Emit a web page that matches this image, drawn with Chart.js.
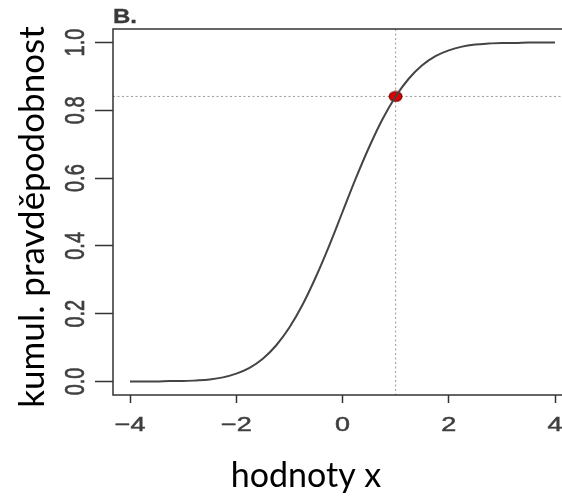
<!DOCTYPE html>
<html>
<head>
<meta charset="utf-8">
<script src="https://cdn.jsdelivr.net/npm/chart.js@4.4.1/dist/chart.umd.min.js"></script>
<style>
  html, body { margin: 0; padding: 0; background: #fff; overflow: hidden; }
  #wrap { position: relative; width: 580px; height: 496px; }
</style>
</head>
<body>
<div id="wrap"><canvas id="cdf"></canvas></div>
<script>
/* Cumulative distribution curve (panel B), R-style axes. */
var xs = [-4, -3.75, -3.5, -3.25, -3, -2.75, -2.5, -2.25, -2, -1.75, -1.5, -1.25, -1, -0.75, -0.5, -0.25,
          0, 0.25, 0.5, 0.75, 1, 1.25, 1.5, 1.75, 2, 2.25, 2.5, 2.75, 3, 3.25, 3.5, 3.75, 4];
var cdfVals = [0.000, 0.000, 0.000, 0.001, 0.001, 0.003, 0.006, 0.012, 0.023, 0.040, 0.067, 0.106, 0.159, 0.227, 0.309, 0.401,
               0.500, 0.599, 0.691, 0.773, 0.841, 0.894, 0.933, 0.960, 0.977, 0.988, 0.994, 0.997, 0.999, 0.999, 1.000, 1.000, 1.000];
var markX = [1];
var markY = [0.841];
var xTicks = [-4, -2, 0, 2, 4];
var xTickLabels = ['\u22124', '\u22122', '0', '2', '4'];
var yTicks = [0, 0.2, 0.4, 0.6, 0.8, 1.0];
var yTickLabels = ['0.0', '0.2', '0.4', '0.6', '0.8', '1.0'];
var panelLabel = 'B.';
var xTitle = 'hodnoty x';
var yTitle = 'kumul. pravd\u011bpodobnost';

var AXIS = '#333', TICKTXT = '#3f3f3f';
var STRETCH = 1.35; // the source plot was widened, its R text is too

// red ellipse marker (source image is slightly stretched)
var dot = document.createElement('canvas');
dot.width = 15; dot.height = 12;
(function () {
  var g = dot.getContext('2d');
  g.beginPath(); g.ellipse(7.5, 6, 6.3, 4.8, 0, 0, Math.PI * 2);
  g.fillStyle = '#e00000'; g.fill();
  g.lineWidth = 1.3; g.strokeStyle = '#7a0000'; g.stroke();
})();

function wideText(ctx, txt, x, y, rot, sx) {
  ctx.save();
  ctx.translate(x, y);
  ctx.scale(sx || STRETCH, 1);
  if (rot) ctx.rotate(rot);
  ctx.fillText(txt, 0, 0);
  ctx.strokeText(txt, 0, 0);
  ctx.restore();
}

var rStyle = {
  id: 'rStyle',
  beforeDatasetsDraw: function (c) {
    var a = c.chartArea, ctx = c.ctx;
    var px = c.scales.x.getPixelForValue(markX[0]);
    var py = c.scales.y.getPixelForValue(markY[0]);
    ctx.save();
    ctx.strokeStyle = '#9a9a9a'; ctx.lineWidth = 1; ctx.setLineDash([2, 2.5]);
    ctx.beginPath(); ctx.moveTo(px, a.top); ctx.lineTo(px, a.bottom); ctx.stroke();
    ctx.beginPath(); ctx.moveTo(a.left, py); ctx.lineTo(a.right, py); ctx.stroke();
    ctx.restore();
  },
  afterDraw: function (c) {
    var a = c.chartArea, ctx = c.ctx;
    ctx.save();
    ctx.strokeStyle = AXIS; ctx.lineWidth = 1.5;
    ctx.strokeRect(a.left, a.top, a.right - a.left, a.bottom - a.top);

    ctx.fillStyle = TICKTXT; ctx.strokeStyle = TICKTXT; ctx.lineWidth = 0.5;
    ctx.font = '20px "Liberation Sans", Arial, sans-serif';
    ctx.textAlign = 'center'; ctx.textBaseline = 'middle';
    xTicks.forEach(function (v, i) {
      wideText(ctx, xTickLabels[i], c.scales.x.getPixelForValue(v), 425, 0);
    });
    yTicks.forEach(function (v, i) {
      wideText(ctx, yTickLabels[i], 77, c.scales.y.getPixelForValue(v), -Math.PI / 2);
    });

    ctx.fillStyle = '#3a3a3a'; ctx.strokeStyle = '#3a3a3a'; ctx.lineWidth = 0.3;
    ctx.font = 'bold 20px "Liberation Sans", Arial, sans-serif';
    ctx.textAlign = 'left'; ctx.textBaseline = 'alphabetic';
    wideText(ctx, panelLabel, a.left, 23, 0, 1.2);

    ctx.fillStyle = '#000';
    ctx.textAlign = 'center'; ctx.textBaseline = 'alphabetic';
    ctx.font = '34px Lato, "Open Sans", sans-serif';
    ctx.fillText(xTitle, 306, 487);
    ctx.font = '35px Lato, "Open Sans", sans-serif';
    ctx.save();
    ctx.translate(44, 217);
    ctx.rotate(-Math.PI / 2);
    ctx.fillText(yTitle, 0, 0);
    ctx.restore();
    ctx.restore();
  }
};

new Chart(document.getElementById('cdf'), {
  type: 'line',
  data: {
    datasets: [
      {
        data: xs.map(function (x, i) { return { x: x, y: cdfVals[i] }; }),
        borderColor: '#444', borderWidth: 2, pointRadius: 0,
        cubicInterpolationMode: 'monotone', fill: false
      },
      {
        data: markX.map(function (x, i) { return { x: x, y: markY[i] }; }),
        showLine: false, pointStyle: dot, pointRadius: 6
      }
    ]
  },
  plugins: [rStyle],
  options: {
    responsive: true, maintainAspectRatio: false, animation: false,
    layout: { padding: { left: 95, top: 29, right: 8, bottom: 93 } },
    plugins: { legend: { display: false }, tooltip: { enabled: false } },
    scales: {
      x: {
        type: 'linear', min: -4.32, max: 4.32,
        afterBuildTicks: function (s) { s.ticks = xTicks.map(function (v) { return { value: v }; }); },
        ticks: { display: false },
        border: { display: false },
        grid: { drawOnChartArea: false, drawTicks: true, tickLength: 8, tickColor: AXIS, tickWidth: 1.5 }
      },
      y: {
        type: 'linear', min: -0.04, max: 1.04,
        afterBuildTicks: function (s) { s.ticks = yTicks.map(function (v) { return { value: v }; }); },
        ticks: { display: false },
        border: { display: false },
        grid: { drawOnChartArea: false, drawTicks: true, tickLength: 18, tickColor: AXIS, tickWidth: 1.5 }
      }
    }
  }
});
</script>
</body>
</html>
